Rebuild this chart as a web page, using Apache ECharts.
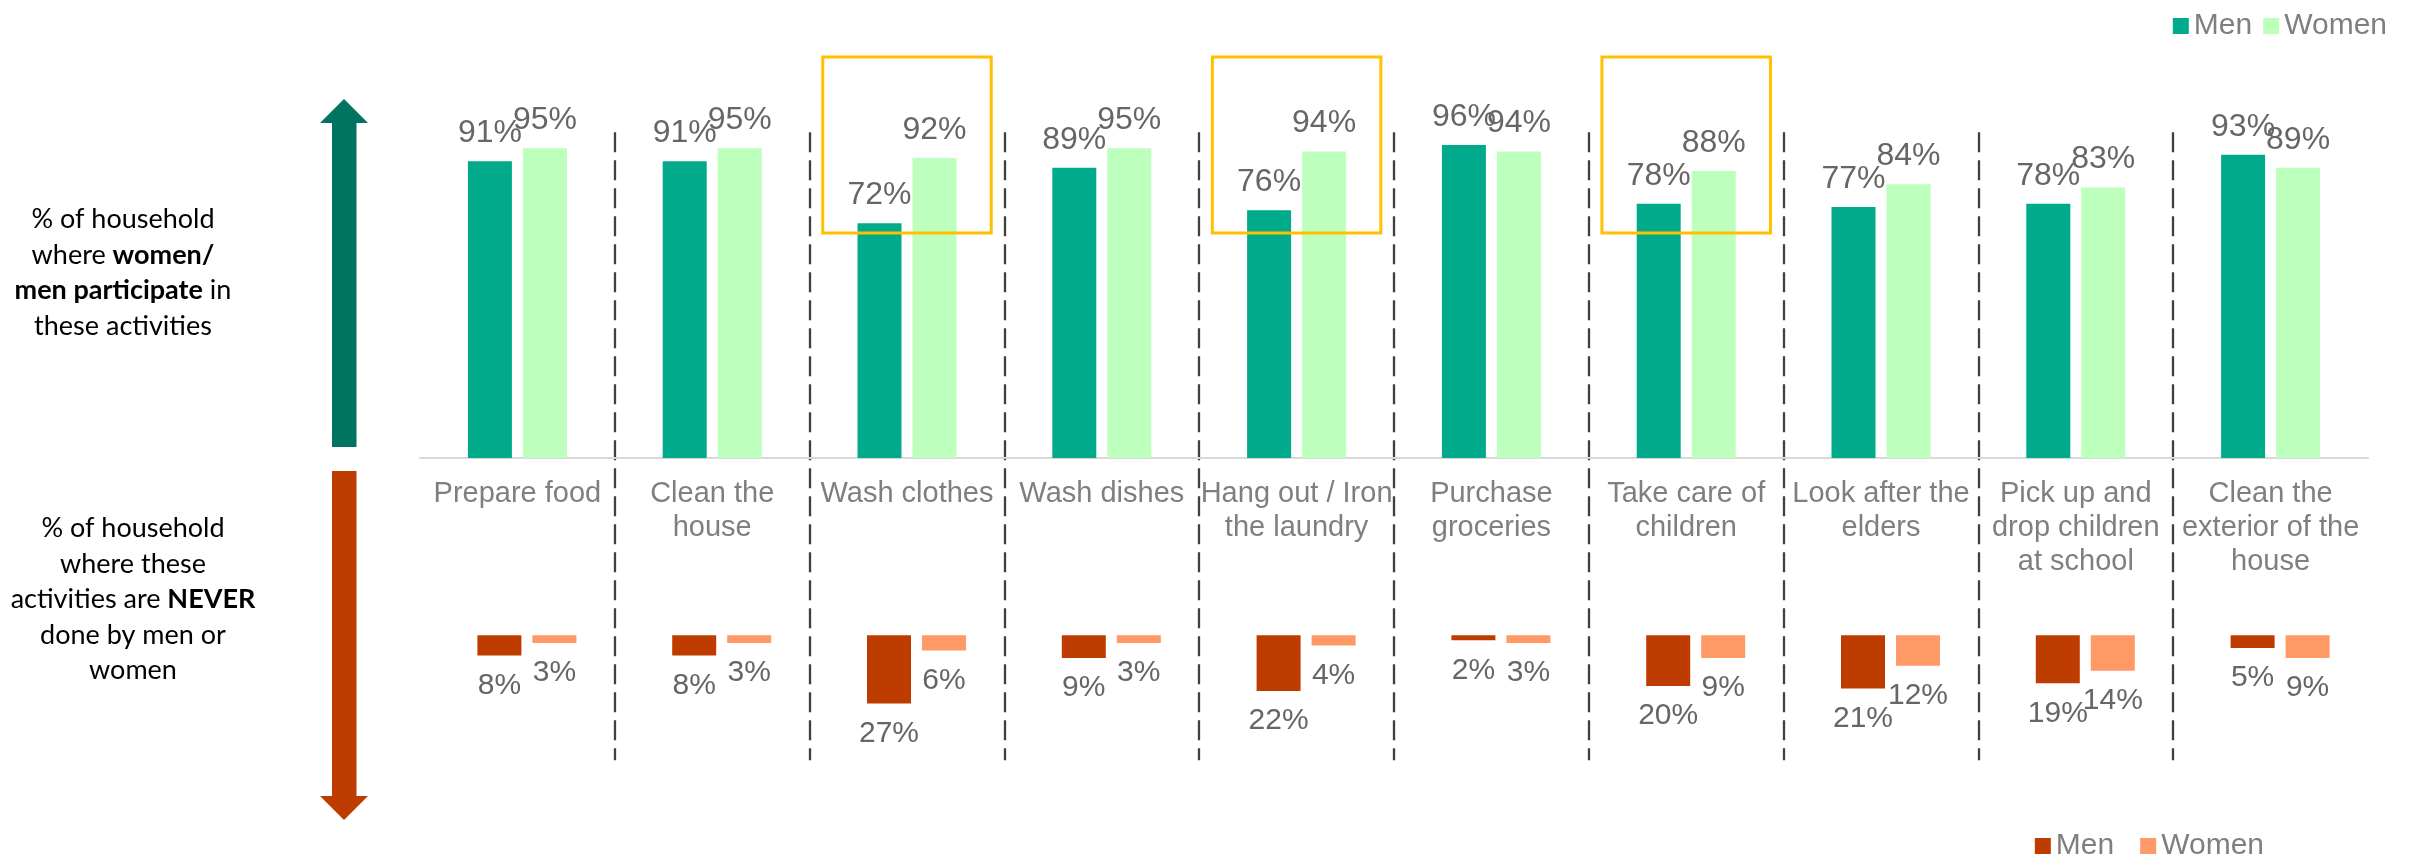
<!DOCTYPE html>
<html>
<head>
<meta charset="utf-8">
<script src="https://cdn.jsdelivr.net/npm/echarts@6/dist/echarts.min.js"></script>
<style>
  html, body { margin: 0; padding: 0; background: #ffffff; }
  #chart { width: 2420px; height: 856px; }
</style>
</head>
<body>
<div id="chart"></div>
<script>
const categories = [
  'Prepare food',
  'Clean the\nhouse',
  'Wash clothes',
  'Wash dishes',
  'Hang out / Iron\nthe laundry',
  'Purchase\ngroceries',
  'Take care of\nchildren',
  'Look after the\nelders',
  'Pick up and\ndrop children\nat school',
  'Clean the\nexterior of the\nhouse'
];
const seriesNames = ['Men', 'Women'];
const participateMen   = [91, 91, 72, 89, 76, 96, 78, 77, 78, 93];
const participateWomen = [95, 95, 92, 95, 94, 94, 88, 84, 83, 89];
const neverMen   = [8, 8, 27, 9, 22, 2, 20, 21, 19, 5];
const neverWomen = [3, 3, 6, 3, 4, 3, 9, 12, 14, 9];
const highlightedCategories = [categories[2], categories[4], categories[6]];
const highlightRange = [69, 123];

const FONT = "'Liberation Sans', Arial, sans-serif";
const COL = {
  men: '#00AA8B', women: '#BDFFBD', menNever: '#BF3C00', womenNever: '#FF9966',
  upArrow: '#007461', downArrow: '#BF3C00', box: '#FFC000'
};

const chart = echarts.init(document.getElementById('chart'), null, { renderer: 'canvas' });

const upLabel = {
  show: true, position: 'top', distance: 12, formatter: '{c}%',
  fontFamily: FONT, fontSize: 32, lineHeight: 32, color: '#666666'
};
const downLabel = {
  show: true, position: 'bottom', distance: 15, formatter: '{c}%',
  fontFamily: FONT, fontSize: 30, lineHeight: 30, color: '#666666'
};

const leftText = (lines, x, y) => ({
  type: 'text',
  style: {
    x: x, y: y,
    text: lines.join('\n'),
    textAlign: 'center', textVerticalAlign: 'top',
    fontFamily: 'Lato, sans-serif', fontSize: 27, lineHeight: 35.5, fill: '#000000',
    rich: {
      b: { fontFamily: 'Lato, sans-serif', fontSize: 27, fontWeight: 'bold', lineHeight: 35.5, fill: '#000000' }
    }
  }
});

const option = {
  backgroundColor: '#ffffff',
  animation: false,
  legend: [
    {
      right: 28, top: 6, itemWidth: 16, itemHeight: 16, itemGap: 11, icon: 'rect',
      textStyle: { fontFamily: FONT, fontSize: 30, lineHeight: 30, color: '#7F7F7F' },
      data: [
        { name: seriesNames[0], itemStyle: { color: COL.men } },
        { name: seriesNames[1], itemStyle: { color: COL.women } }
      ],
      selectedMode: false
    },
    {
      right: 151, top: 826, itemWidth: 16, itemHeight: 16, itemGap: 26, icon: 'rect',
      textStyle: { fontFamily: FONT, fontSize: 30, lineHeight: 30, color: '#7F7F7F' },
      data: [
        { name: seriesNames[0], itemStyle: { color: COL.menNever } },
        { name: seriesNames[1], itemStyle: { color: COL.womenNever } }
      ],
      selectedMode: false
    }
  ],
  grid: [
    { left: 420, width: 1948, top: 50.5, height: 407.5 },
    { left: 429.5, width: 1948, top: 635.3, height: 126.5 },
    { left: 420, width: 1948, top: 132.3, height: 628 }
  ],
  xAxis: [
    {
      type: 'category', gridIndex: 0, data: categories,
      axisLine: { show: true, lineStyle: { color: '#D9D9D9', width: 2 } },
      axisTick: { show: false },
      axisLabel: { fontFamily: FONT, fontSize: 29, lineHeight: 34, color: '#7F7F7F', margin: 19, interval: 0 }
    },
    { type: 'category', gridIndex: 1, data: categories, show: false },
    {
      type: 'value', gridIndex: 2, min: 0, max: 10, interval: 1,
      axisLabel: { show: false }, axisLine: { show: false }, axisTick: { show: false },
      splitLine: {
        show: true, showMinLine: false, showMaxLine: false,
        lineStyle: { type: [20, 8], color: '#404040', width: 2.3 }
      }
    }
  ],
  yAxis: [
    { type: 'value', gridIndex: 0, min: 0, max: 125, show: false },
    { type: 'value', gridIndex: 1, min: 0, max: 50, inverse: true, show: false },
    { type: 'value', gridIndex: 2, min: 0, max: 1, show: false }
  ],
  graphic: [
    {
      type: 'polygon',
      shape: { points: [[344, 99], [368, 123], [356.5, 123], [356.5, 447], [332, 447], [332, 123], [320, 123]] },
      style: { fill: COL.upArrow }
    },
    {
      type: 'polygon',
      shape: { points: [[332, 471], [356.5, 471], [356.5, 796], [368, 796], [344, 820], [320, 796], [332, 796]] },
      style: { fill: COL.downArrow }
    },
    leftText(['% of household', 'where {b|women/}', '{b|men participate} in', 'these activities'], 123, 202),
    leftText(['% of household', 'where these', 'activities are {b|NEVER}', 'done by men or', 'women'], 133, 511)
  ],
  series: [
    {
      name: seriesNames[0], type: 'bar', xAxisIndex: 0, yAxisIndex: 0,
      data: participateMen, barWidth: 44, barGap: '25%',
      itemStyle: { color: COL.men }, label: upLabel
    },
    {
      name: seriesNames[1], type: 'bar', xAxisIndex: 0, yAxisIndex: 0,
      data: participateWomen, barWidth: 44, barGap: '25%',
      itemStyle: { color: COL.women }, label: upLabel
    },
    {
      name: seriesNames[0], type: 'bar', xAxisIndex: 1, yAxisIndex: 1,
      data: neverMen, barWidth: 44, barGap: '25%',
      itemStyle: { color: COL.menNever }, label: downLabel
    },
    {
      name: seriesNames[1], type: 'bar', xAxisIndex: 1, yAxisIndex: 1,
      data: neverWomen, barWidth: 44, barGap: '25%',
      itemStyle: { color: COL.womenNever }, label: downLabel
    },
    {
      name: 'highlight', type: 'custom', xAxisIndex: 0, yAxisIndex: 0, z: 10,
      data: highlightedCategories.map(c => [c, highlightRange[0], highlightRange[1]]),
      encode: { x: 0, y: [1, 2] },
      silent: true,
      renderItem: function (params, api) {
        const idx = api.value(0);
        const top = api.coord([idx, api.value(2)]);
        const bottom = api.coord([idx, api.value(1)]);
        const w = api.size([1, 0])[0] * 0.865;
        return {
          type: 'rect',
          shape: { x: top[0] - w / 2, y: top[1], width: w, height: bottom[1] - top[1] },
          style: { fill: 'none', stroke: COL.box, lineWidth: 3 }
        };
      }
    }
  ]
};
chart.setOption(option);
</script>
</body>
</html>
